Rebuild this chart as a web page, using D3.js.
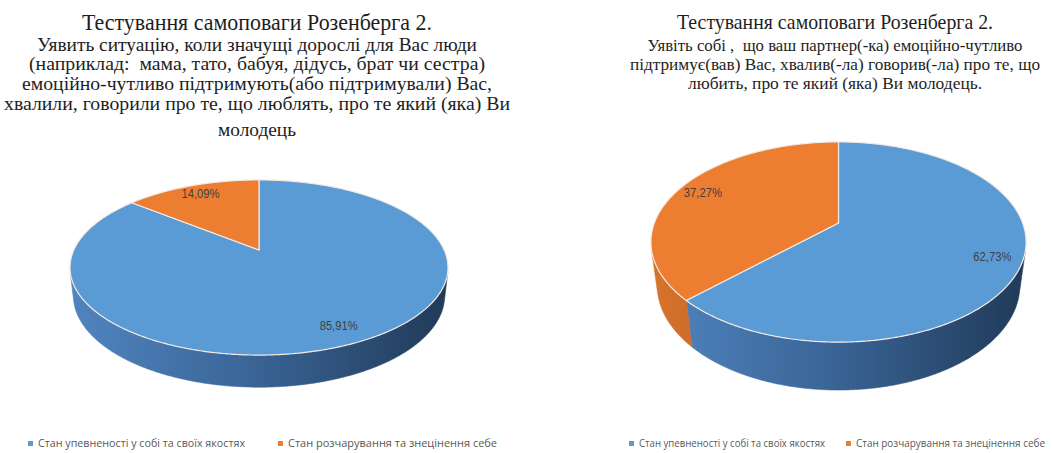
<!DOCTYPE html>
<html lang="uk">
<head>
<meta charset="utf-8">
<script src="https://cdn.jsdelivr.net/npm/d3@7"></script>
<style>
  html, body { margin: 0; padding: 0; background: #ffffff; }
  svg { display: block; }
  text { white-space: pre; }
</style>
</head>
<body>
<svg id="chart" width="1052" height="453"></svg>
<script>
// ---- data ----
const categories = [
  "Стан упевненості у собі та своїх якостях",
  "Стан розчарування та знецінення себе"
];
const valuesFamily  = [85.91, 14.09];   // значущі дорослі
const valuesPartner = [62.73, 37.27];   // партнер(-ка)

const titleText = "Тестування самоповаги Розенберга 2.";
const subtitleFamily = [
  "Уявить ситуацію, коли значущі дорослі для Вас люди",
  "(наприклад:  мама, тато, бабуя, дідусь, брат чи сестра)",
  "емоційно-чутливо підтримують(або підтримували) Вас,",
  "хвалили, говорили про те, що люблять, про те який (яка) Ви",
  "молодець"
];
const subtitlePartner = [
  "Уявіть собі ,  що ваш партнер(-ка) емоційно-чутливо",
  "підтримує(вав) Вас, хвалив(-ла) говорив(-ла) про те, що",
  "любить, про те який (яка) Ви молодець."
];

// ---- styling ----
const topColors  = ["#5B9BD5", "#ED7D31"];
const sideStops  = [
  [["0%", "#5185C0"], ["45%", "#3B679A"], ["100%", "#203957"]],
  [["0%", "#D8742D"], ["45%", "#B05A1F"], ["100%", "#6E3812"]]
];

const svg = d3.select("#chart");
const defs = svg.append("defs");

// ---- layout of each panel ----
const panels = [
  {
    id: "family", values: valuesFamily, subtitle: subtitleFamily,
    textX: 257, titleY: 30, titleW: 350, titleSize: 22.5,
    subY: [51, 70, 90, 110, 136], subW: [440, 456, 470, 506, 78], subSize: 19.5,
    pie: { cx: 259, cy: 250, F: 825, D: 4.455, alpha: 27 * Math.PI / 180, h: 0.17 },
    legend: { y: 447, size: 11, items: [{ mx: 28, tx: 38, w: 207 }, { mx: 278, tx: 288, w: 209 }] }
  },
  {
    id: "partner", values: valuesPartner, subtitle: subtitlePartner,
    textX: 835, titleY: 28.5, titleW: 316, titleSize: 21.5,
    subY: [51, 70, 89], subW: [375, 410, 294], subSize: 17.5,
    pie: { cx: 838.5, cy: 223, F: 825, D: 4.48, alpha: 31.6 * Math.PI / 180, h: 0.2825 },
    legend: { y: 447, size: 10, items: [{ mx: 629, tx: 639, w: 186 }, { mx: 846, tx: 856, w: 189 }] }
  }
];

const fmtPct = v => d3.format(".2f")(v).replace(".", ",") + "%";
const pieGen = d3.pie().sort(null).startAngle(0).endAngle(2 * Math.PI);
const line = d3.line().curve(d3.curveLinearClosed);

// perspective projection of a point on a unit disc (angle clockwise from 12 o'clock)
function projector(p) {
  const sa = Math.sin(p.alpha), ca = Math.cos(p.alpha);
  return function (phi, r, y) {
    const x = r * Math.sin(phi), z = -r * Math.cos(phi);
    const depth = p.D - y * sa - z * ca;
    const u = p.F * x / depth;
    const v = p.F * (y * ca - z * sa) / depth;
    return [p.cx + u, p.cy - v];
  };
}

function arcPoints(proj, a0, a1, y, reverse) {
  const n = Math.max(2, Math.ceil(Math.abs(a1 - a0) / (Math.PI / 360)));
  const pts = d3.range(n + 1).map(i => proj(a0 + (a1 - a0) * i / n, 1, y));
  return reverse ? pts.reverse() : pts;
}

panels.forEach(panel => {
  const g = svg.append("g").attr("class", "panel-" + panel.id);
  const p = panel.pie;
  const proj = projector(p);

  // title and subtitle
  g.append("text")
    .attr("x", panel.textX).attr("y", panel.titleY)
    .attr("text-anchor", "middle")
    .attr("textLength", panel.titleW).attr("lengthAdjust", "spacingAndGlyphs")
    .style("font-family", "'Liberation Serif', 'Times New Roman', serif")
    .style("font-size", panel.titleSize + "px")
    .style("fill", "#1e1e1e")
    .text(titleText);

  g.selectAll("text.sub").data(panel.subtitle).join("text")
    .attr("class", "sub")
    .attr("x", panel.textX).attr("y", (d, i) => panel.subY[i])
    .attr("text-anchor", "middle")
    .attr("textLength", (d, i) => panel.subW[i]).attr("lengthAdjust", "spacingAndGlyphs")
    .style("font-family", "'Liberation Serif', 'Times New Roman', serif")
    .style("font-size", panel.subSize + "px")
    .style("fill", "#1e1e1e")
    .text(d => d);

  // side gradients spanning the pie width
  const left = proj(3 * Math.PI / 2, 1, 0)[0] - 8;
  const right = proj(Math.PI / 2, 1, 0)[0] + 8;
  sideStops.forEach((stops, k) => {
    const grad = defs.append("linearGradient")
      .attr("id", `side-${panel.id}-${k}`)
      .attr("gradientUnits", "userSpaceOnUse")
      .attr("x1", left).attr("x2", right).attr("y1", 0).attr("y2", 0);
    stops.forEach(s => grad.append("stop").attr("offset", s[0]).attr("stop-color", s[1]));
  });

  const arcs = pieGen(panel.values);

  // visible part of the cylinder wall
  const limit = Math.acos(-1 / (p.D * Math.cos(p.alpha)));
  const visA = limit, visB = 2 * Math.PI - limit;

  arcs.forEach((a, k) => {
    const a0 = Math.max(a.startAngle, visA), a1 = Math.min(a.endAngle, visB);
    if (a1 <= a0) return;
    const pts = arcPoints(proj, a0, a1, 0, false).concat(arcPoints(proj, a0, a1, -p.h, true));
    g.append("path")
      .attr("d", line(pts))
      .attr("fill", `url(#side-${panel.id}-${k})`)
      .attr("stroke", `url(#side-${panel.id}-${k})`)
      .attr("stroke-width", 0.6);
  });

  // top faces
  arcs.forEach((a, k) => {
    const pts = [proj(0, 0, 0)].concat(arcPoints(proj, a.startAngle, a.endAngle, 0, false));
    g.append("path")
      .attr("d", line(pts))
      .attr("fill", topColors[k])
      .attr("stroke", "#F3EAE2")
      .attr("stroke-width", 1.2)
      .attr("stroke-linejoin", "round");
  });

  // value labels
  arcs.forEach(a => {
    const mid = (a.startAngle + a.endAngle) / 2;
    const [lx, ly] = proj(mid, 0.85, 0);
    g.append("text")
      .attr("x", lx).attr("y", ly)
      .attr("text-anchor", "middle").attr("dominant-baseline", "central")
      .attr("textLength", 38).attr("lengthAdjust", "spacingAndGlyphs")
      .style("font-family", "'Liberation Sans', 'Open Sans', sans-serif")
      .style("font-size", "12.5px")
      .style("fill", "#404040")
      .text(fmtPct(a.data));
  });

  // legend
  categories.forEach((c, k) => {
    const it = panel.legend.items[k];
    g.append("rect")
      .attr("x", it.mx).attr("y", panel.legend.y - 6)
      .attr("width", 5).attr("height", 5)
      .attr("fill", topColors[k]);
    g.append("text")
      .attr("x", it.tx).attr("y", panel.legend.y)
      .attr("textLength", it.w).attr("lengthAdjust", "spacingAndGlyphs")
      .style("font-family", "'Open Sans', 'Noto Sans', sans-serif")
      .style("font-size", panel.legend.size + "px")
      .style("fill", "#595959")
      .text(c);
  });
});
</script>
</body>
</html>
